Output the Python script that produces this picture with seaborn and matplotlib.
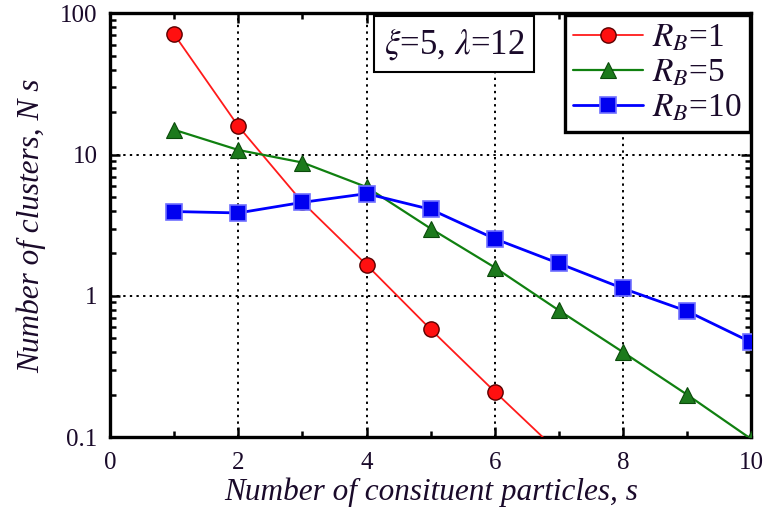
import numpy as np
import pandas as pd
import matplotlib
matplotlib.use("Agg")
import matplotlib.pyplot as plt
from matplotlib.lines import Line2D
from matplotlib.ticker import FixedLocator, NullFormatter
import seaborn as sns

# Cluster-size distributions for three values of R_B
s_values = [1, 2, 3, 4, 5, 6, 7, 8, 9, 10]
ns_rb1 = [71, 15.9, 4.6, 1.66, 0.58, 0.21, 0.078]   # last value falls below the axis floor
ns_rb5 = [15.0, 10.8, 8.8, 5.9, 3.0, 1.59, 0.79, 0.40, 0.20, 0.097]
ns_rb10 = [3.96, 3.87, 4.6, 5.3, 4.1, 2.54, 1.70, 1.13, 0.78, 0.47]
series_labels = [r"$R_B$=1", r"$R_B$=5", r"$R_B$=10"]
x_ticks = [0, 2, 4, 6, 8, 10]
y_ticks = [0.1, 1, 10, 100]
y_tick_labels = ["0.1", "1", "10", "100"]

sns.set_theme(style="ticks")
plt.rcParams["font.family"] = ["Liberation Serif", "DejaVu Serif"]
plt.rcParams["mathtext.fontset"] = "stix"

text_color = "#1a0a2a"

fig = plt.figure(figsize=(7.65, 5.18), dpi=100)
ax = fig.add_axes([0.144, 0.156, 0.838, 0.818])

df1 = pd.DataFrame({"s": s_values[:len(ns_rb1)], "N": ns_rb1})
df5 = pd.DataFrame({"s": s_values[:len(ns_rb5)], "N": ns_rb5})
df10 = pd.DataFrame({"s": s_values[:len(ns_rb10)], "N": ns_rb10})

styles = [
    dict(color="#ff1a1a", lw=1.3, marker="o", ms=11, mfc="#ff1010", mec="#5a0000", mew=1.0),
    dict(color="#108010", lw=1.6, marker="^", ms=12, mfc="#1c7a1c", mec="#0a4a0a", mew=0.8),
    dict(color="#0000ff", lw=2.0, marker="s", ms=11, mfc="#0000f0", mec="#7070ff", mew=1.2),
]

for df, st in zip([df1, df5, df10], styles):
    sns.lineplot(data=df, x="s", y="N", ax=ax, color=st["color"], linewidth=st["lw"],
                 marker=st["marker"], markersize=st["ms"], markerfacecolor=st["mfc"],
                 markeredgecolor=st["mec"], markeredgewidth=st["mew"], zorder=3)

ax.set_yscale("log")
ax.set_xlim(0, 10)
ax.set_ylim(0.1, 100)

ax.xaxis.set_major_locator(FixedLocator(x_ticks))
ax.xaxis.set_minor_locator(FixedLocator([1, 3, 5, 7, 9]))
ax.set_xticklabels([str(v) for v in x_ticks])
ax.yaxis.set_major_locator(FixedLocator(y_ticks))
ax.set_yticklabels(y_tick_labels)
minor_y = [m * 10.0 ** e for e in (-1, 0, 1) for m in range(2, 10)]
ax.yaxis.set_minor_locator(FixedLocator(minor_y))
ax.yaxis.set_minor_formatter(NullFormatter())

ax.tick_params(which="both", direction="in", top=True, right=True, width=1.8,
               colors="black", labelcolor=text_color, labelsize=18)
ax.tick_params(axis="x", which="major", pad=11)
ax.tick_params(axis="y", which="major", pad=9)
ax.tick_params(which="major", length=7)
ax.tick_params(which="minor", length=4.5)

for sp in ax.spines.values():
    sp.set_linewidth(2.4)
    sp.set_color("black")

ax.grid(True, which="major", color="black", linestyle=(0, (1.2, 2.2)), linewidth=1.4)
ax.set_axisbelow(True)

ax.set_xlabel("Number of consituent particles, s", fontsize=22.5, style="italic",
              color=text_color, labelpad=2)
ax.set_ylabel("Number of clusters, N s", fontsize=22.5, style="italic",
              color=text_color, labelpad=10)

handles = [
    Line2D([], [], color=st["color"], lw=st["lw"], marker=st["marker"], ms=st["ms"],
           mfc=st["mfc"], mec=st["mec"], mew=st["mew"])
    for st in styles
]
leg = ax.legend(handles, series_labels, loc="upper right", fontsize=24, frameon=True,
                fancybox=False, framealpha=1, edgecolor="black", borderaxespad=0.05,
                handlelength=2.1, handletextpad=0.25, labelspacing=0.13, borderpad=0.25,
                numpoints=1)
leg.get_frame().set_linewidth(2.4)
for t in leg.get_texts():
    t.set_color(text_color)

ax.text(0.537, 0.928, r"$\xi$=5, $\lambda$=12", transform=ax.transAxes, fontsize=25,
        ha="center", va="center", color=text_color, zorder=5,
        bbox=dict(boxstyle="square,pad=0.28", fc="white", ec="black", lw=1.5))

fig.savefig("out.png", dpi=100)
